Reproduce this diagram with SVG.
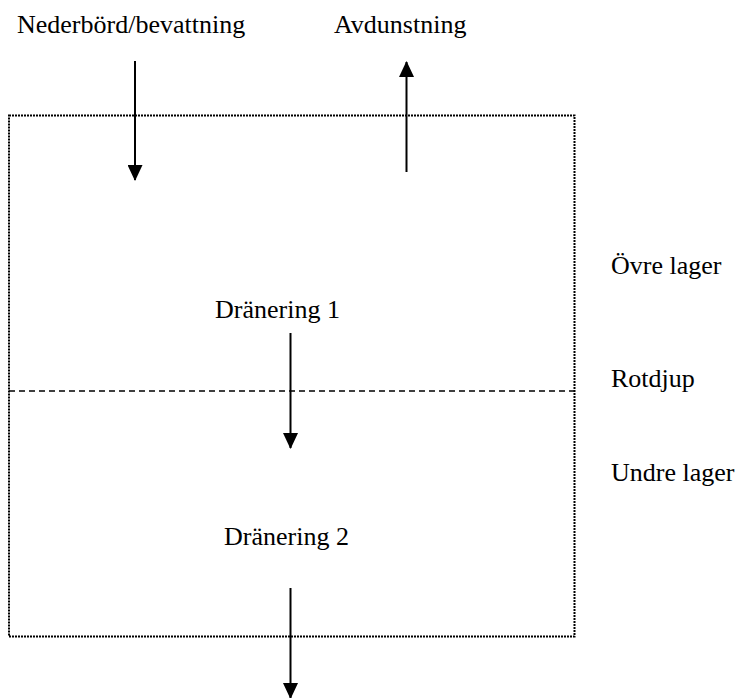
<svg xmlns="http://www.w3.org/2000/svg" width="739" height="698" viewBox="0 0 739 698">
<style>
text{font-family:"Liberation Serif","Times New Roman",serif;font-size:26px;fill:#000}
.box{fill:none;stroke:#000;stroke-width:2;stroke-dasharray:2 1}
.dash{fill:none;stroke:#000;stroke-width:1.4;stroke-dasharray:6 4}
.arr{fill:none;stroke:#000;stroke-width:2;marker-end:url(#ah)}
</style>
<defs>
<marker id="ah" viewBox="0 0 16 15" refX="15" refY="7.5" markerWidth="16" markerHeight="15" markerUnits="userSpaceOnUse" orient="auto">
<path d="M0,0 L16,7.5 L0,15 z" fill="#000"/>
</marker>
</defs>
<rect id="soil" class="box" x="9" y="115.5" width="565.5" height="521"/>
<line id="rootdepth" class="dash" x1="9" y1="391" x2="574" y2="391"/>
<g id="connectors">
<line class="arr" x1="135" y1="61" x2="135" y2="180"/>
<line class="arr" x1="406.5" y1="172" x2="406.5" y2="62"/>
<line class="arr" x1="290.5" y1="333" x2="290.5" y2="448"/>
<line class="arr" x1="290.5" y1="588" x2="290.5" y2="698"/>
</g>
<g id="n-nederbord"><text x="17" y="33">Nederbörd/bevattning</text></g>
<g id="n-avdunstning"><text x="334" y="33">Avdunstning</text></g>
<g id="n-dranering1"><text x="215" y="318">Dränering 1</text></g>
<g id="n-dranering2"><text x="224" y="545">Dränering 2</text></g>
<g id="n-ovre"><text x="611" y="274">Övre lager</text></g>
<g id="n-rotdjup"><text x="611" y="387">Rotdjup</text></g>
<g id="n-undre"><text x="611" y="481">Undre lager</text></g>
</svg>
